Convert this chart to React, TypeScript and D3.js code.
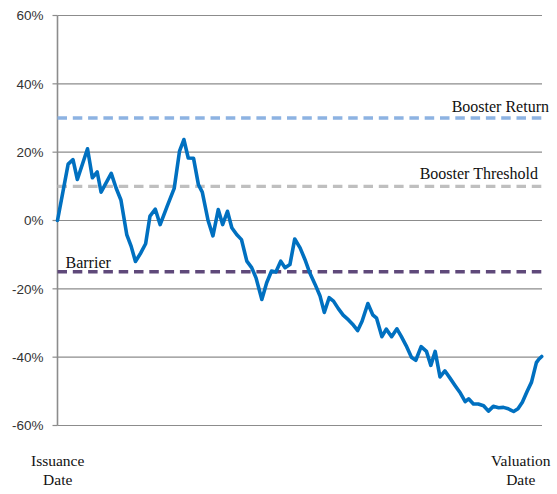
import React from "react";
import * as d3 from "d3";

const tickValues = [-60, -40, -20, 0, 20, 40, 60];
const tickLabels = ["-60%", "-40%", "-20%", "0%", "20%", "40%", "60%"];

// time as percent of product term (0 = issuance, 100 = valuation)
const times = [
  0, 2.2, 3.2, 4.1, 6.2, 7.2, 8.2, 9.0, 11.1, 12.1, 13.1, 14.3, 15.2, 16.1, 17.2, 18.2, 19.1,
  20.2, 21.2, 22.6, 24.1, 25.2, 26.1, 27.0, 28.1, 29.1, 29.9, 31.1, 32.1, 33.2, 34.1, 35.1,
  36.0, 37.0, 38.0, 39.1, 40.1, 41.0, 42.2, 43.2, 44.2, 45.1, 46.1, 47.0, 48.0, 49.0, 50.1,
  51.1, 52.1, 53.2, 54.2, 55.1, 56.1, 57.0, 58.0, 59.0, 60.1, 61.1, 62.0, 62.9, 64.1, 65.1,
  65.9, 67.0, 67.9, 69.0, 70.1, 71.0, 72.0, 73.1, 74.0, 75.1, 76.2, 77.1, 78.0, 79.0, 80.0,
  81.1, 82.2, 83.2, 84.2, 84.9, 85.9, 86.9, 88.0, 89.0, 90.0, 91.1, 92.1, 93.1, 94.2, 95.1,
  96.0, 97.0, 97.9, 98.9, 99.4, 100,
];
const returns = [
  0, 16.5, 17.8, 12.0, 21.0, 12.5, 14.2, 8.3, 13.8, 9.5, 6.0, -4.1, -7.5, -12.0, -9.5, -6.8, 1.3,
  3.3, -1.2, 4.0, 9.4, 20.3, 23.7, 18.3, 18.2, 10.5, 8.3, 0.0, -4.5, 3.2, -1.2, 2.7,
  -2.1, -4.1, -5.6, -11.9, -13.8, -16.8, -23.1, -18.2, -14.8, -15.1, -11.9, -13.8, -12.9, -5.4, -8.0,
  -11.4, -15.3, -18.7, -22.0, -26.9, -22.6, -23.6, -25.8, -27.7, -29.1, -30.6, -32.2, -29.5, -24.3, -27.6,
  -28.6, -34.0, -31.8, -34.0, -31.7, -33.9, -36.6, -40.0, -40.9, -36.9, -38.3, -42.4, -38.3, -45.8, -44.0,
  -46.2, -48.5, -50.5, -53.0, -52.2, -53.7, -53.7, -54.2, -55.8, -54.4, -54.8, -54.7, -55.1, -55.9, -55.1,
  -53.2, -50.0, -47.3, -41.6, -40.6, -39.8,
];

const levelNames = ["Booster Return", "Booster Threshold", "Barrier"];
const levelValues = [30, 10, -15];
const levelColors = ["#8DB3E2", "#BFBFBF", "#5F497A"];

const xLabels = [
  ["Issuance", "Date"],
  ["Valuation", "Date"],
];

export default function App() {
  const W = 557;
  const H = 494;
  const left = 57.5;
  const right = 542;
  const x = d3.scaleLinear().domain([0, 100]).range([left, 541.7]);
  const y = d3.scaleLinear().domain([-60, 60]).range([425.5, 15.5]);
  const line = d3
    .line<number>()
    .x((_, i) => x(times[i]))
    .y((d) => y(d));

  const labelPos = [
    { x: 549, y: y(30) - 6, anchor: "end" },
    { x: 538, y: y(10) - 7.5, anchor: "end" },
    { x: 65.5, y: y(-15) - 4, anchor: "start" },
  ];
  const bottomX = [57.7, 520.8];

  return (
    <svg
      width={W}
      height={H}
      style={{ position: "absolute", left: 0, top: 0, background: "#fff" }}
    >
      {tickValues.map((t, i) => (
        <g key={t}>
          <line x1={left} x2={right} y1={y(t)} y2={y(t)} stroke="#8C8C8C" strokeWidth={1.2} />
          <line x1={left - 5} x2={left} y1={y(t)} y2={y(t)} stroke="#8C8C8C" strokeWidth={1.2} />
          <text
            x={43.5}
            y={y(t)}
            dy="0.36em"
            textAnchor="end"
            fontFamily="'Liberation Sans', Arial, sans-serif"
            fontSize={13.5}
            fill="#333"
          >
            {tickLabels[i]}
          </text>
        </g>
      ))}
      <line x1={left} x2={left} y1={y(60)} y2={y(-60)} stroke="#8C8C8C" strokeWidth={1.6} />
      {levelValues.map((v, i) => (
        <g key={levelNames[i]}>
          <line
            x1={left}
            x2={542.7}
            y1={y(v)}
            y2={y(v)}
            stroke={levelColors[i]}
            strokeWidth={3.3}
            strokeDasharray="9.5,5.8"
          />
          <text
            x={labelPos[i].x}
            y={labelPos[i].y}
            textAnchor={labelPos[i].anchor as any}
            fontFamily="'Liberation Serif', 'Times New Roman', serif"
            fontSize={16}
            fill="#111"
          >
            {levelNames[i]}
          </text>
        </g>
      ))}
      <path
        d={line(returns) || ""}
        fill="none"
        stroke="#0070C0"
        strokeWidth={3.6}
        strokeLinejoin="round"
        strokeLinecap="round"
      />
      {xLabels.map((lines, i) => (
        <text
          key={i}
          x={bottomX[i]}
          textAnchor="middle"
          fontFamily="'Liberation Serif', 'Times New Roman', serif"
          fontSize={15.5}
          fill="#111"
        >
          <tspan x={bottomX[i]} y={466}>
            {lines[0]}
          </tspan>
          <tspan x={bottomX[i]} y={485}>
            {lines[1]}
          </tspan>
        </text>
      ))}
    </svg>
  );
}
